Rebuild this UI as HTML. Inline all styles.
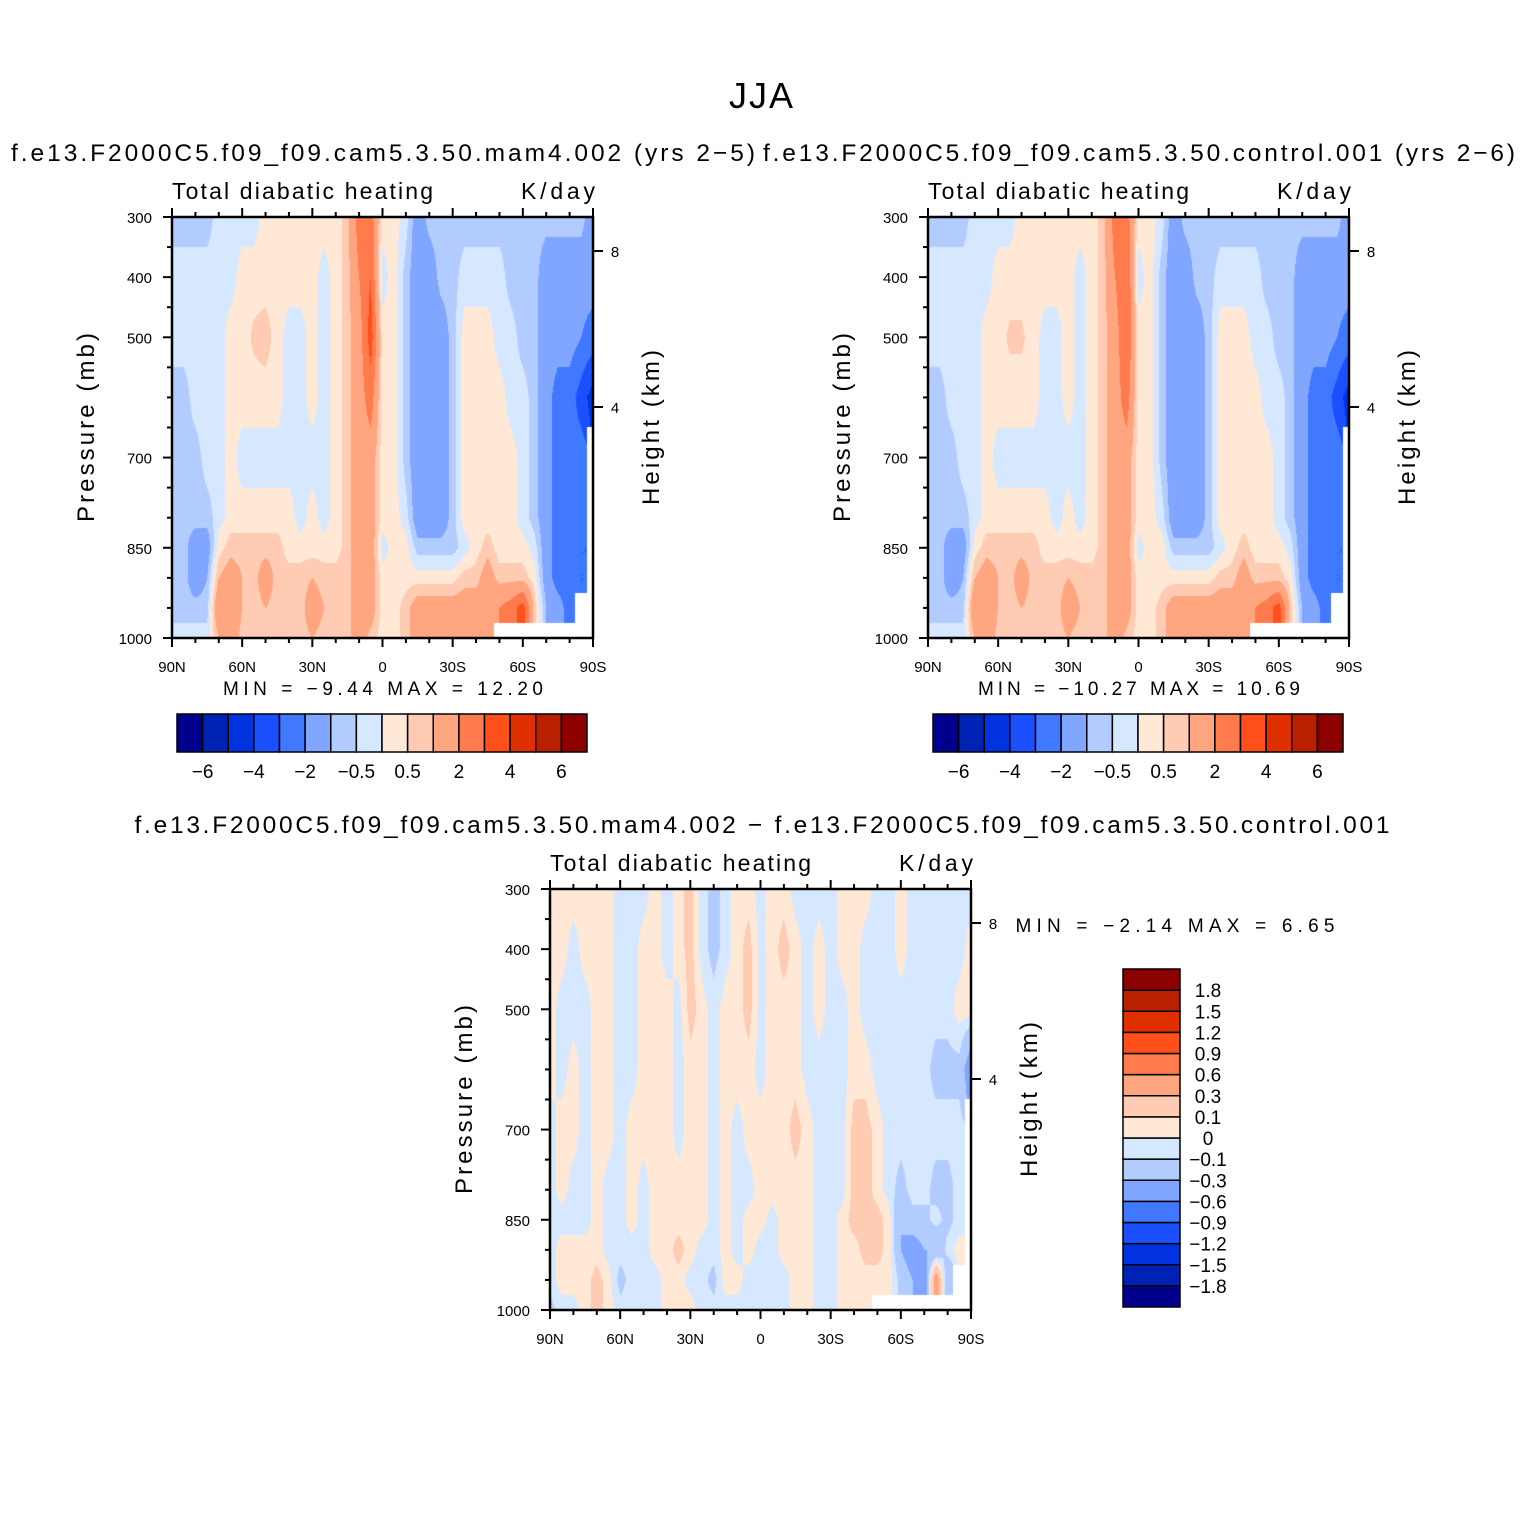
<!DOCTYPE html>
<html><head><meta charset="utf-8">
<style>
html,body{margin:0;padding:0;background:#fff;}
#root{position:relative;width:1522px;height:1522px;overflow:hidden;font-family:"Liberation Sans",sans-serif;}
canvas{position:absolute;}
svg{position:absolute;left:0;top:0;}
</style></head>
<body>
<div id="root">
<canvas id="c1" width="421" height="421" style="left:172px;top:217px"></canvas>
<canvas id="c2" width="421" height="421" style="left:928px;top:217px"></canvas>
<canvas id="c3" width="421" height="421" style="left:550px;top:889px"></canvas>
<svg id="ov" width="1522" height="1522"></svg>
</div>
<script>
// ---- data ----
const pressures = [300,400,500,600,700,800,850,900,950,1000];
const lats = []; for (let i=0;i<37;i++) lats.push(90-5*i); // 90N..90S
const absLevels = [-6,-5,-4,-3,-2,-1,-0.5,0,0.5,1,2,3,4,5,6];
const diffLevels = [-1.8,-1.5,-1.2,-0.9,-0.6,-0.3,-0.1,0,0.1,0.3,0.6,0.9,1.2,1.5,1.8];
const palette = ["#00008c","#0022b4","#0033e0","#1a50ff","#4079ff","#80a6ff","#b3ccff","#d6e8ff","#ffe8d6","#ffcbb3","#ffa680","#ff7a4d","#ff4f1a","#e03000","#b82000","#8c0000"];
const absLabels = ["−6","−4","−2","−0.5","0.5","2","4","6"];
const diffLabels = ["−1.8","−1.5","−1.2","−0.9","−0.6","−0.3","−0.1","0","0.1","0.3","0.6","0.9","1.2","1.5","1.8"];
const xTickLabels = ["90N","60N","30N","0","30S","60S","90S"];
const pTickLabels = [300,400,500,700,850,1000];
const hTickLabels = [8,4];
const N=null;
const fieldMam4 = [
[-0.75,-0.25,-0.25,-0.75,-0.75,-0.75,-0.75,-0.75,-0.75,-0.25],
[-0.75,-0.25,-0.25,-0.75,-0.75,-0.75,-0.75,-0.75,-0.75,-0.25],
[-0.75,-0.25,-0.25,-0.25,-0.75,-0.75,-1.5,-1.5,-0.75,-0.25],
[-0.75,-0.25,-0.25,-0.25,-0.25,-0.75,-1.5,-1.0,-0.75,-0.25],
[-0.25,-0.25,-0.25,-0.25,-0.25,-0.25,0.25,1.0,2.0,1.0],
[-0.25,-0.25,0.25,0.25,0.25,0.25,0.75,1.5,2.0,1.5],
[-0.25,0.25,0.25,0.25,-0.25,0.25,0.75,1.0,1.0,0.75],
[-0.25,0.25,0.6,0.25,-0.25,0.25,0.75,0.75,0.75,0.5],
[0.25,0.25,0.75,0.25,-0.25,0.25,0.75,1.5,1.0,0.5],
[0.25,0.25,0.25,0.25,-0.25,0.25,0.75,0.75,0.75,0.75],
[0.25,0.25,-0.25,-0.25,-0.25,0.25,0.25,0.75,0.75,0.5],
[0.25,0.25,-0.25,-0.25,-0.25,-0.25,0.25,0.75,0.75,0.75],
[0.25,0.25,0.25,0.25,-0.25,0.25,0.25,1.0,1.5,1.0],
[0.25,-0.25,-0.25,-0.25,-0.25,-0.25,0.25,0.75,1.0,0.75],
[0.25,0.25,0.25,0.25,0.25,0.25,0.25,0.75,0.75,0.75],
[0.75,0.75,0.75,0.75,0.75,0.75,0.75,0.75,0.75,0.75],
[2.5,2.0,1.5,1.5,1.5,1.5,1.5,1.5,1.5,1.5],
[2.5,3.0,3.5,2.5,1.5,1.5,1.5,1.5,1.5,0.75],
[0.25,-0.25,0.25,0.25,0.25,0.25,-0.25,0.25,0.25,0.25],
[0.25,0.25,0.25,0.25,0.25,0.25,0.25,0.25,0.25,0.25],
[-0.25,-0.75,-0.75,-0.75,-0.75,-0.25,0.25,0.25,0.75,0.75],
[-1.5,-1.5,-1.5,-1.5,-1.5,-1.5,-0.75,0.25,1.5,1.5],
[-0.75,-1.5,-1.5,-1.5,-1.5,-1.5,-0.75,0.25,1.5,1.5],
[-0.75,-0.75,-1.5,-1.5,-1.5,-1.5,-0.75,0.25,1.5,1.5],
[-0.75,-0.75,-0.75,-0.75,-0.75,-0.75,-0.75,0.25,1.5,1.5],
[-0.75,-0.25,0.25,0.25,0.25,0.25,-0.25,0.75,1.5,1.5],
[-0.75,-0.25,0.25,0.25,0.25,0.25,0.25,0.75,1.5,1.5],
[-0.75,-0.25,0.25,0.25,0.25,0.25,0.75,1.5,1.5,1.5],
[-0.75,-0.25,-0.25,0.25,0.25,0.25,0.25,0.75,2.0,N],
[-0.75,-0.75,-0.25,-0.25,0.25,0.25,0.25,0.75,2.5,N],
[-0.75,-0.75,-0.75,-0.25,-0.25,-0.25,0.25,0.75,3.5,N],
[-0.75,-0.75,-0.75,-0.75,-0.75,-0.75,-0.25,0.25,0.75,N],
[-0.75,-1.5,-1.5,-1.5,-1.5,-1.5,-1.5,-1.5,-1.0,N],
[-0.75,-1.5,-1.5,-2.5,-2.5,-2.5,-2.5,-2.5,-1.5,N],
[-0.75,-1.5,-1.5,-2.5,-2.5,-2.5,-2.5,-2.5,-2.5,N],
[-0.75,-1.5,-2.0,-3.5,-2.5,-2.5,-3,-3,N,N],
[-1.5,-1.5,-2.5,-4.5,N,N,N,N,N,N]
];
const fieldControl = [
[-0.75,-0.25,-0.25,-0.75,-0.75,-0.75,-0.75,-0.75,-0.75,-0.25],
[-0.75,-0.25,-0.25,-0.75,-0.75,-0.75,-0.75,-0.75,-0.75,-0.25],
[-0.75,-0.25,-0.25,-0.25,-0.75,-0.75,-1.5,-1.5,-0.75,-0.25],
[-0.75,-0.25,-0.25,-0.25,-0.25,-0.75,-1.5,-1.0,-0.75,-0.25],
[-0.25,-0.25,-0.25,-0.25,-0.25,-0.25,0.25,1.0,2.0,1.0],
[-0.25,-0.25,0.25,0.25,0.25,0.25,0.75,1.5,2.0,1.5],
[-0.25,0.25,0.25,0.25,-0.25,0.25,0.75,1.0,1.0,0.75],
[-0.25,0.25,0.6,0.25,-0.25,0.25,0.75,0.75,0.75,0.5],
[0.25,0.25,0.6,0.25,-0.25,0.25,0.75,1.5,1.0,0.5],
[0.25,0.25,0.25,0.25,-0.25,0.25,0.75,0.75,0.75,0.75],
[0.25,0.25,-0.25,-0.25,-0.25,0.25,0.25,0.75,0.75,0.5],
[0.25,0.25,-0.25,-0.25,-0.25,-0.25,0.25,0.75,0.75,0.75],
[0.25,0.25,0.25,0.25,-0.25,0.25,0.25,1.0,1.5,1.0],
[0.25,-0.25,-0.25,-0.25,-0.25,-0.25,0.25,0.75,1.0,0.75],
[0.25,0.25,0.25,0.25,0.25,0.25,0.25,0.75,0.75,0.75],
[0.75,0.75,0.75,0.75,0.75,0.75,0.75,0.75,0.75,0.75],
[2.5,2.0,1.5,1.5,1.5,1.5,1.5,1.5,1.5,1.5],
[2.5,3.0,3.0,2.5,1.5,1.5,1.5,1.5,1.5,0.75],
[0.25,-0.25,0.25,0.25,0.25,0.25,-0.25,0.25,0.25,0.25],
[0.25,0.25,0.25,0.25,0.25,0.25,0.25,0.25,0.25,0.25],
[-0.25,-0.75,-0.75,-0.75,-0.75,-0.25,0.25,0.25,0.75,0.75],
[-1.5,-1.5,-1.5,-1.5,-1.5,-1.5,-0.75,0.25,1.5,1.5],
[-0.75,-1.5,-1.5,-1.5,-1.5,-1.5,-0.75,0.25,1.5,1.5],
[-0.75,-0.75,-1.5,-1.5,-1.5,-1.5,-0.75,0.25,1.5,1.5],
[-0.75,-0.75,-0.75,-0.75,-0.75,-0.75,-0.75,0.25,1.5,1.5],
[-0.75,-0.25,0.25,0.25,0.25,0.25,-0.25,0.75,1.5,1.5],
[-0.75,-0.25,0.25,0.25,0.25,0.25,0.25,0.75,1.5,1.5],
[-0.75,-0.25,0.25,0.25,0.25,0.25,0.75,1.5,1.5,1.5],
[-0.75,-0.25,-0.25,0.25,0.25,0.25,0.25,0.75,2.0,N],
[-0.75,-0.75,-0.25,-0.25,0.25,0.25,0.25,0.75,2.5,N],
[-0.75,-0.75,-0.75,-0.25,-0.25,-0.25,0.25,0.75,3.5,N],
[-0.75,-0.75,-0.75,-0.75,-0.75,-0.75,-0.25,0.25,0.75,N],
[-0.75,-1.5,-1.5,-1.5,-1.5,-1.5,-1.5,-1.5,-1.0,N],
[-0.75,-1.5,-1.5,-2.5,-2.5,-2.5,-2.5,-2.5,-1.5,N],
[-0.75,-1.5,-1.5,-2.5,-2.5,-2.5,-2.5,-2.5,-2.5,N],
[-0.75,-1.5,-2.0,-3.5,-2.5,-2.5,-3,-3,N,N],
[-1.5,-1.5,-2.5,-4.5,N,N,N,N,N,N]
];
const fieldDiff = [
[0.05,0.05,0.05,0.05,-0.05,-0.05,-0.05,-0.05,-0.05,-0.15],
[0.05,0.05,-0.05,-0.05,0.05,0.05,-0.05,0.05,0.05,-0.05],
[0.05,-0.05,-0.05,0.05,0.05,-0.05,-0.05,0.05,0.05,-0.05],
[0.05,0.05,-0.05,-0.05,-0.05,-0.05,-0.05,0.05,0.05,0.05],
[0.05,0.05,0.05,0.05,0.05,0.05,0.05,0.05,0.15,0.15],
[0.05,0.05,0.05,0.05,0.05,-0.05,-0.05,-0.05,0.05,0.05],
[-0.05,-0.05,-0.05,-0.05,-0.05,-0.05,-0.05,-0.05,-0.15,-0.05],
[-0.05,-0.05,-0.05,-0.05,0.05,0.05,0.05,-0.05,-0.05,-0.05],
[-0.05,0.05,0.05,0.05,0.05,-0.05,-0.05,-0.05,-0.05,-0.05],
[0.05,0.05,0.05,0.05,0.05,0.05,0.05,0.05,-0.05,-0.05],
[-0.05,-0.05,0.05,0.05,0.05,0.05,0.05,0.05,0.05,0.05],
[0.05,0.05,-0.05,-0.05,-0.05,0.05,0.05,0.15,0.05,0.05],
[0.15,0.15,0.15,0.05,0.05,0.05,0.05,0.05,-0.05,0.05],
[-0.05,-0.05,0.05,0.05,0.05,0.05,0.05,-0.05,-0.05,-0.05],
[-0.15,-0.15,-0.05,-0.05,-0.05,-0.05,-0.05,-0.05,-0.15,-0.05],
[-0.05,-0.05,0.05,0.05,0.05,0.05,0.05,0.05,0.05,-0.05],
[0.05,0.05,0.05,0.05,-0.05,-0.05,-0.05,-0.05,0.05,-0.05],
[0.05,0.15,0.15,0.05,0.05,-0.05,0.05,0.05,-0.05,-0.05],
[-0.05,-0.05,-0.05,-0.05,0.05,0.05,0.05,-0.05,-0.05,-0.05],
[0.05,0.05,0.05,0.05,0.05,0.05,-0.05,-0.05,-0.05,-0.05],
[0.05,0.15,0.05,0.05,0.05,0.05,0.05,0.05,-0.05,-0.05],
[-0.05,0.05,0.05,0.05,0.15,0.05,0.05,0.05,0.05,0.05],
[-0.05,-0.05,-0.05,-0.05,0.05,0.05,0.05,0.05,0.05,0.05],
[-0.05,0.05,0.05,-0.05,-0.05,-0.05,-0.05,-0.05,-0.05,-0.05],
[-0.05,-0.05,-0.05,-0.05,-0.05,-0.05,-0.05,-0.05,-0.05,-0.05],
[0.05,0.05,-0.05,-0.05,-0.05,-0.05,0.05,0.05,0.05,0.05],
[0.05,0.05,0.05,0.05,0.15,0.15,0.15,0.05,0.05,0.05],
[0.05,-0.05,-0.05,0.05,0.15,0.15,0.15,0.15,0.05,0.05],
[-0.05,-0.05,-0.05,-0.05,0.05,0.05,0.15,0.15,0.05,N],
[-0.05,-0.05,-0.05,-0.05,-0.05,-0.05,0.05,0.05,0.05,N],
[0.05,0.05,-0.05,-0.05,-0.05,-0.15,-0.3,-0.3,-0.15,N],
[-0.05,-0.05,-0.05,-0.05,-0.05,-0.05,-0.15,-0.45,-0.3,N],
[-0.05,-0.05,-0.05,-0.05,-0.05,-0.05,-0.15,-0.3,-0.5,N],
[-0.05,-0.05,-0.05,-0.15,-0.05,-0.15,-0.05,-0.3,0.5,N],
[-0.05,-0.05,-0.05,-0.15,-0.05,-0.15,-0.15,-0.05,-0.3,N],
[-0.05,-0.05,0.05,-0.15,-0.05,-0.05,-0.05,0.05,N,N],
[-0.05,0.05,0.05,-0.5,N,N,N,N,N,N]
];

// ---- rendering ----
function hex(c){return [parseInt(c.substr(1,2),16),parseInt(c.substr(3,2),16),parseInt(c.substr(5,2),16)];}
const rgb = palette.map(hex);
function colorIndex(v,levels){let k=0;while(k<levels.length&&v>=levels[k])k++;return k;}
function drawField(id,field,levels){
  const cv=document.getElementById(id),ctx=cv.getContext('2d');
  const W=cv.width,H=cv.height,img=ctx.createImageData(W,H),d=img.data;
  for(let py=0;py<H;py++){
    const p=300+(py+0.5)/H*700;
    let r=0;while(r<pressures.length-2&&p>pressures[r+1])r++;
    const ty=Math.min(1,Math.max(0,(p-pressures[r])/(pressures[r+1]-pressures[r])));
    for(let px=0;px<W;px++){
      const lat=90-(px+0.5)/W*180;
      const fx=(90-lat)/5;let c=Math.min(35,Math.floor(fx));const tx=fx-c;
      const nc=tx<0.5?c:c+1,nr=ty<0.5?r:r+1;
      const o=(py*W+px)*4;
      if(field[nc][nr]===null){d[o]=d[o+1]=d[o+2]=255;d[o+3]=255;continue;}
      const pts=[[c,r,(1-tx)*(1-ty)],[c+1,r,tx*(1-ty)],[c,r+1,(1-tx)*ty],[c+1,r+1,tx*ty]];
      let s=0,w=0;for(const[a,b,ww]of pts){const v=field[a][b];if(v!==null){s+=v*ww;w+=ww;}}
      const v=s/w;const col=rgb[colorIndex(v,levels)];
      d[o]=col[0];d[o+1]=col[1];d[o+2]=col[2];d[o+3]=255;
    }
  }
  ctx.putImageData(img,0,0);
}
drawField('c1',fieldMam4,absLevels);
drawField('c2',fieldControl,absLevels);
drawField('c3',fieldDiff,diffLevels);

// ---- annotations ----
const NS="http://www.w3.org/2000/svg",ov=document.getElementById('ov');
function el(tag,attrs,text){const e=document.createElementNS(NS,tag);for(const k in attrs)e.setAttribute(k,attrs[k]);if(text!==undefined)e.textContent=text;ov.appendChild(e);return e;}
function txt(x,y,s,size,anchor,name,rot,len){
  const e=el('text',{x:x,y:y,'font-size':size,'text-anchor':anchor||'middle','font-family':'Liberation Sans, sans-serif',fill:'#000'},s);
  if(len){e.setAttribute('textLength',len);e.setAttribute('lengthAdjust','spacing');}
  if(rot)e.setAttribute('transform','rotate(-90 '+x+' '+y+')');
  
  
  return e;
}
function line(x1,y1,x2,y2,w,name){const e=el('line',{x1:x1,y1:y1,x2:x2,y2:y2,stroke:'#000','stroke-width':w});
  
  return e;}

txt(761,108,"JJA",36,'middle','main-title',false,64);
txt(383,161,"f.e13.F2000C5.f09_f09.cam5.3.50.mam4.002 (yrs 2−5)",24.5,'middle','left-panel-title',false,744);
txt(1139,161,"f.e13.F2000C5.f09_f09.cam5.3.50.control.001 (yrs 2−6)",24.5,'middle','right-panel-title',false,752);
txt(762,833,"f.e13.F2000C5.f09_f09.cam5.3.50.mam4.002 − f.e13.F2000C5.f09_f09.cam5.3.50.control.001",24.5,'middle','difference-title',false,1255);

function panel(x0,y0,tag){
  const S=421;
  const xs=lat=>x0+(90-lat)/180*S, ys=p=>y0+(p-300)/700*S;
  const f=el('rect',{x:x0,y:y0,width:S,height:S,fill:'none',stroke:'#000','stroke-width':2.5});
  
  
  for(let lat=90;lat>=-90;lat-=10){
    const major=lat%30===0, L=major?9:5, X=xs(lat);
    line(X,y0+S,X,y0+S+L,2,tag+'-x-tick');
    line(X,y0,X,y0-L,2,tag+'-top-tick');
  }
  xTickLabels.forEach((s,i)=>txt(xs(90-30*i),y0+S+34,s,15,'middle',tag+'-x-tick-label'));
  pTickLabels.forEach(p=>{line(x0,ys(p),x0-9,ys(p),2,tag+'-y-tick');txt(x0-20,ys(p)+6,String(p),15,'end',tag+'-y-tick-label');});
  [350,450,550,600,650,750,800,900,950].forEach(p=>line(x0,ys(p),x0-5,ys(p),2,tag+'-y-minor-tick'));
  const hY={8:y0+34,4:y0+190};
  hTickLabels.forEach(h=>{line(x0+S,hY[h],x0+S+10,hY[h],2,tag+'-height-tick');txt(x0+S+22,hY[h]+6,String(h),15,'middle',tag+'-height-tick-label');});
  txt(x0,y0-18,"Total diabatic heating",23,'start',tag+'-variable-label',false,261);
  txt(x0+S+2,y0-18,"K/day",23,'end',tag+'-units-label',false,74);
  txt(x0-78,y0+S/2,"Pressure (mb)",24,'middle',tag+'-y-axis-title',true,189);
  txt(x0+S+66,y0+S/2,"Height (km)",24,'middle',tag+'-height-axis-title',true,155);
}
panel(172,217,'left');
panel(928,217,'right');
panel(550,889,'diff');

txt(383,695,"MIN =   −9.44   MAX =   12.20",19,'middle','left-min-max',false,320);
txt(1139,695,"MIN =  −10.27   MAX =   10.69",19,'middle','right-min-max',false,322);
txt(1175,932,"MIN =   −2.14   MAX =    6.65",19,'middle','diff-min-max',false,319);

function hbar(x0,tag){
  const y0=714,w=410/16,h=38;
  palette.forEach((c,i)=>{const r=el('rect',{x:x0+i*w,y:y0,width:w,height:h,fill:c,stroke:'#000','stroke-width':1.5});
    
    });
  absLabels.forEach((s,i)=>txt(x0+(2*i+1)*w,y0+h+26,s,19,'middle',tag+'-colorbar-label'));
}
hbar(177,'left');hbar(933,'right');
(function(){
  const x0=1123,y0=969,w=57,h=338/16;
  palette.forEach((c,i)=>{const r=el('rect',{x:x0,y:y0+(15-i)*h,width:w,height:h,fill:c,stroke:'#000','stroke-width':1.5});
    
    });
  diffLabels.forEach((s,i)=>txt(1208,y0+(15-i)*h+7,s,19,'middle','diff-colorbar-label'));
})();
</script>
</body></html>
